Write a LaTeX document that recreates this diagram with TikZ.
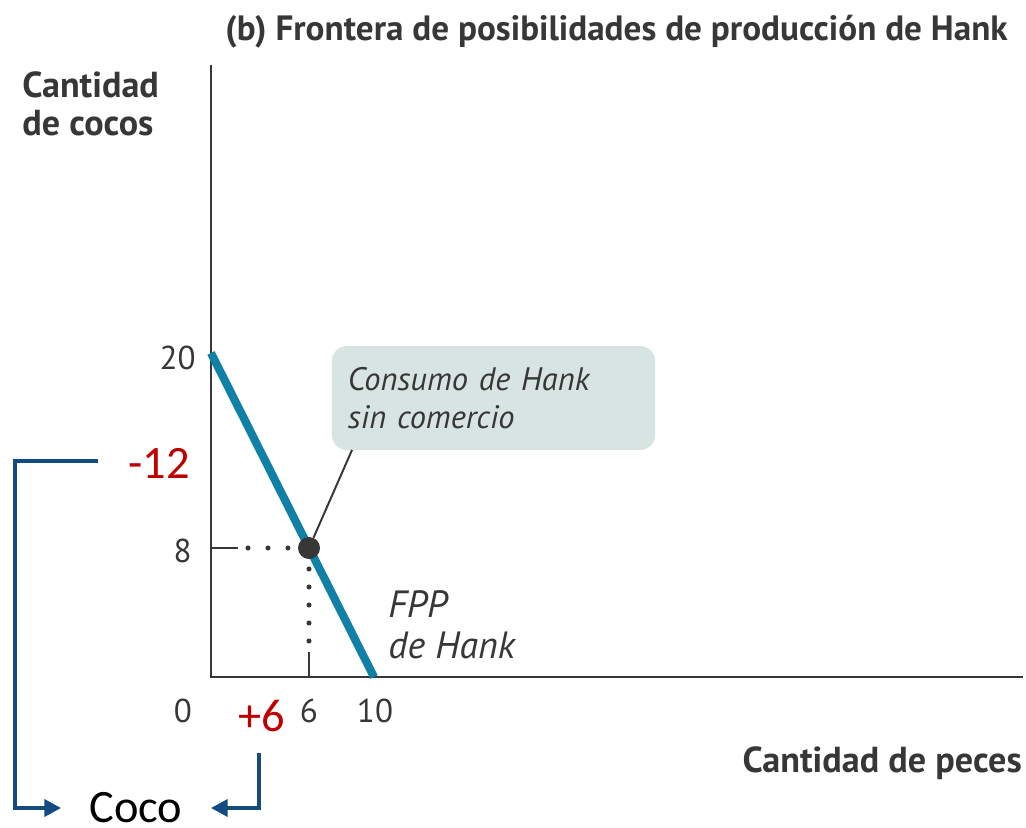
\documentclass[tikz,border=0pt]{standalone}
\usepackage{fontspec}
\setmainfont{PT Sans}
\newfontfamily\calibrifont{Carlito}
\usetikzlibrary{arrows.meta}

\definecolor{ppfteal}{RGB}{16,128,166}
\definecolor{boxgray}{RGB}{216,228,226}
\definecolor{minusred}{RGB}{192,0,0}
\definecolor{arrownavy}{RGB}{20,74,130}
\definecolor{inkgray}{RGB}{55,55,55}

\begin{document}
\begin{tikzpicture}[x=0.025cm, y=-0.025cm,
    axis/.style={draw=inkgray, line width=2pt},
    ppf/.style={draw=ppfteal, line width=5.8pt},
    guide/.style={draw=inkgray, line width=1.4pt},
    dots/.style={draw=inkgray, line width=3.6pt, line cap=round, dash pattern=on 0pt off #1},
    axlabel/.style={font=\fontsize{25.7}{27.7}\selectfont\bfseries, text=inkgray, inner sep=0pt, align=left},
    num/.style={font=\fontsize{23.5}{28}\selectfont, text=inkgray, inner sep=0pt},
    change/.style={font=\calibrifont\fontsize{33}{40}\selectfont, text=minusred, inner sep=0pt},
    callout/.style={fill=boxgray, rounded corners=10.7pt, minimum width=8.075cm, minimum height=2.6cm,
        text width=7.275cm, inner xsep=11.4pt, align=left, text=inkgray,
        font=\fontsize{23.1}{27.2}\selectfont\itshape},
    conn/.style={draw=arrownavy, line width=3.5pt, -{Triangle[length=12pt, width=12pt]}}
]
    \useasboundingbox (0,0) rectangle (1026,828);

    % Title and axis names
    \node[axlabel, font=\fontsize{25}{28}\selectfont\bfseries, anchor=base east] (title) at (1008,41) {(b) Frontera de posibilidades de producción de Hank};
    \node[axlabel, anchor=base west] (ylabel) at (22,136) {Cantidad\\de cocos};
    \node[axlabel, anchor=base east] (xlabel) at (1022,772) {Cantidad de peces};

    % Axes
    \draw[axis] (211,65) -- (211,677) -- (1023,677);

    % Tick numbers
    \node[num, anchor=base east] (y20) at (196,369) {20};
    \node[num, anchor=base east] (y8) at (192,562) {8};
    \node[num, anchor=base] (x0) at (183,722) {0};
    \node[num, anchor=base] (x6) at (309,722) {6};
    \node[num, anchor=base] (x10) at (375,722) {10};

    % Frontier
    \draw[ppf] (211,353) -- (374,677);
    \node[font=\fontsize{27}{28.5}\selectfont\itshape, text=inkgray, inner sep=0pt, align=left, anchor=base west] (fpp) at (388,658) {FPP\\de Hank};

    % Guides to the point
    \draw[guide] (211,548) -- (238,548);
    \draw[dots=14.2pt] (248,548) -- (289,548);
    \draw[guide] (309,677) -- (309,652);
    \draw[dots=12.8pt] (309,641) -- (309,567);

    % Callout
    \node[callout] (note) at (493.5,398) {Consumo de Hank\\sin comercio};
    \coordinate (leadend) at (352,450);
    \node[circle, fill=inkgray, minimum size=0.55cm, inner sep=0pt] (cons) at (309,548) {};
    \draw[guide] (cons) -- (leadend);

    % Changes
    \node[change] (minus12) at (159,463) {-12};
    \node[change] (plus6) at (262,716) {+6};
    \node[font=\calibrifont\fontsize{33}{40}\selectfont, inner xsep=20pt, inner ysep=0pt] (coco) at (136,808) {Coco};

    \coordinate (from12) at (98,461);
    \coordinate (corner12) at (15,461);
    \coordinate (from6) at (259,753);
    \draw[conn] (from12) -- (corner12) |- (coco.west);
    \draw[conn] (from6) |- (coco.east);
\end{tikzpicture}
\end{document}
